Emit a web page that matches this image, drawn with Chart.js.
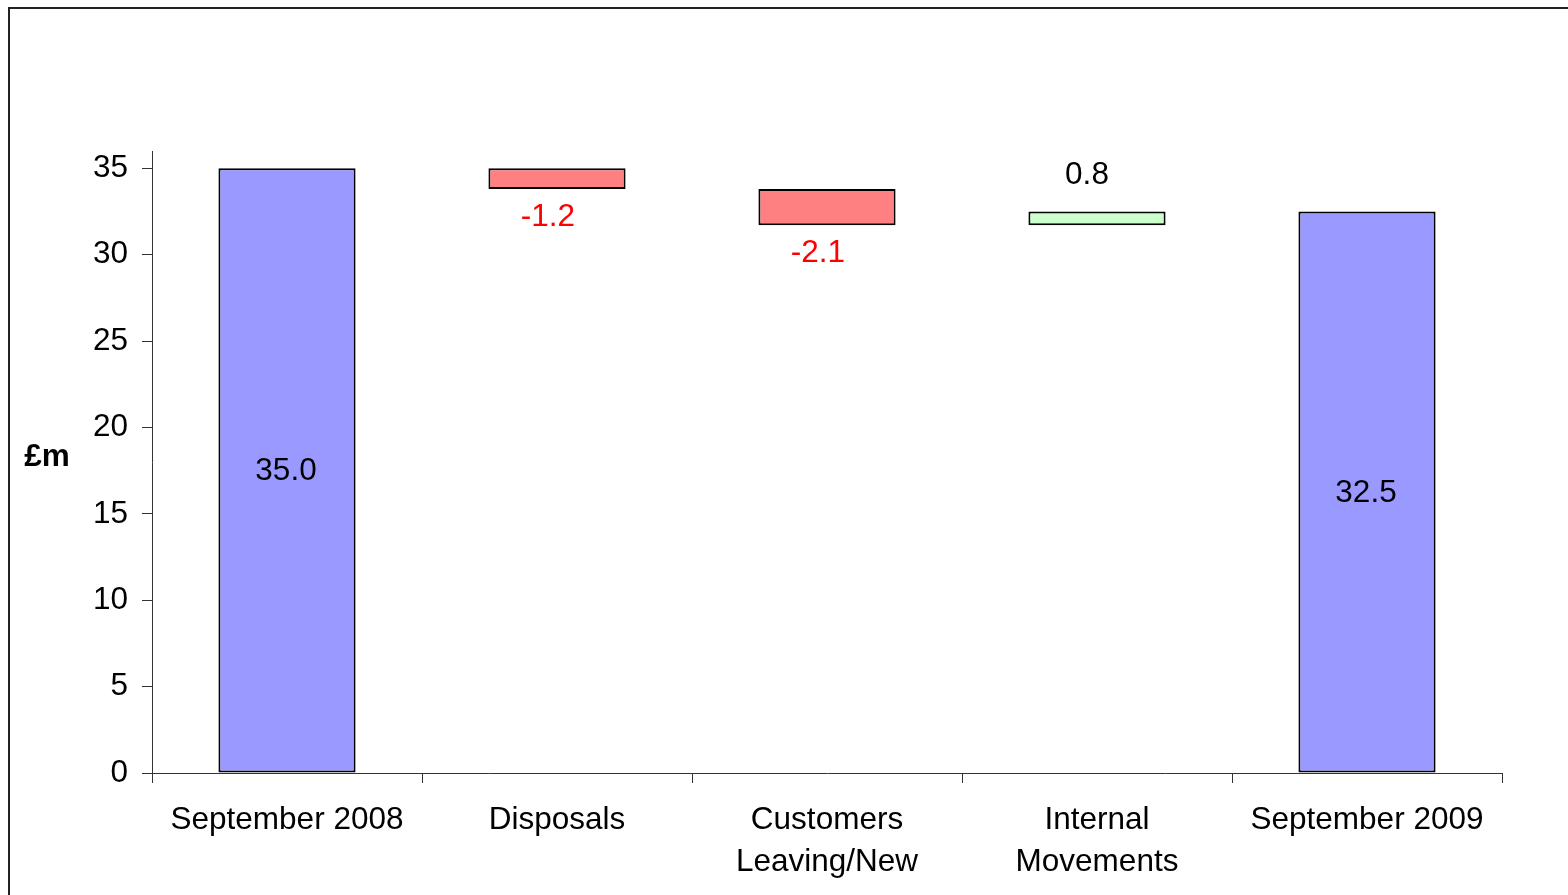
<!DOCTYPE html>
<html>
<head>
<meta charset="utf-8">
<script src="https://cdn.jsdelivr.net/npm/chart.js@4/dist/chart.umd.min.js"></script>
<style>
  html, body { margin: 0; padding: 0; background: #fff; }
  #wrap { width: 1568px; height: 895px; position: relative; }
</style>
</head>
<body>
<div id="wrap"><canvas id="chart" width="1568" height="895"></canvas></div>
<script>
// Revenue bridge, £m
const categories = ['September 2008', 'Disposals', ['Customers', 'Leaving/New'], ['Internal', 'Movements'], 'September 2009'];
const changes = [35.0, -1.2, -2.1, 0.8, 32.5];
const isTotal = [true, false, false, false, true];
const yTicks = [0, 5, 10, 15, 20, 25, 30, 35];

const FONT = "'Liberation Sans', Arial, sans-serif";
const FONT_SIZE = 31.5;
const TOTAL_COLOR = '#9999FF';
const DOWN_COLOR = '#FF8080';
const UP_COLOR = '#CCFFCC';

// Floating [start, end] ranges for the waterfall
const ranges = [];
let running = 0;
changes.forEach((v, i) => {
  if (isTotal[i]) {
    ranges.push([0, v]);
    running = v;
  } else {
    const next = Math.round((running + v) * 10) / 10;
    ranges.push([running, next]);
    running = next;
  }
});
const colors = changes.map((v, i) => isTotal[i] ? TOTAL_COLOR : (v < 0 ? DOWN_COLOR : UP_COLOR));

const framePlugin = {
  id: 'frame',
  beforeDraw(chart) {
    const ctx = chart.ctx;
    ctx.save();
    ctx.strokeStyle = '#222';
    ctx.lineWidth = 2;
    ctx.strokeRect(9, 8, 3000, 3000);
    ctx.fillStyle = '#000';
    ctx.font = 'bold ' + FONT_SIZE + 'px ' + FONT;
    ctx.textAlign = 'center';
    ctx.textBaseline = 'middle';
    ctx.fillText('£m', 47, 457);
    ctx.restore();
  }
};

const valueLabels = {
  id: 'valueLabels',
  afterDatasetsDraw(chart) {
    const ctx = chart.ctx;
    const meta = chart.getDatasetMeta(0);
    ctx.save();
    ctx.font = FONT_SIZE + 'px ' + FONT;
    ctx.textAlign = 'center';
    ctx.textBaseline = 'middle';
    meta.data.forEach((bar, i) => {
      const v = changes[i];
      const top = Math.min(bar.y, bar.base);
      const bottom = Math.max(bar.y, bar.base);
      const text = v.toFixed(1);
      if (isTotal[i]) {
        ctx.fillStyle = '#000';
        ctx.fillText(text, bar.x - 1, (top + bottom) / 2 + 1);
      } else if (v < 0) {
        ctx.fillStyle = '#FF0000';
        ctx.fillText(text, bar.x - 9, bottom + 28);
      } else {
        ctx.fillStyle = '#000';
        ctx.fillText(text, bar.x - 10, top - 36);
      }
    });
    ctx.restore();
  }
};

new Chart(document.getElementById('chart'), {
  type: 'bar',
  data: {
    labels: categories,
    datasets: [{
      data: ranges,
      backgroundColor: colors,
      borderColor: '#000',
      borderWidth: 2,
      borderSkipped: false,
      categoryPercentage: 1.0,
      barPercentage: 0.508
    }]
  },
  options: {
    responsive: false,
    animation: false,
    layout: { padding: { left: 0, top: 151, right: 66, bottom: 0 } },
    plugins: {
      legend: { display: false },
      tooltip: { enabled: false }
    },
    scales: {
      x: {
        offset: true,
        grid: {
          offset: true,
          drawOnChartArea: false,
          drawTicks: true,
          tickLength: 10,
          color: '#333'
        },
        border: { color: '#333', width: 1 },
        ticks: {
          color: '#000',
          font: { family: FONT, size: FONT_SIZE, lineHeight: 1.34 },
          padding: 16,
          maxRotation: 0,
          autoSkip: false
        },
        afterFit(scale) { scale.height = 122; }
      },
      y: {
        min: 0,
        max: 36,
        grid: {
          drawOnChartArea: false,
          drawTicks: true,
          tickLength: 10,
          color: '#333'
        },
        border: { color: '#333', width: 1 },
        ticks: {
          stepSize: 5,
          color: '#000',
          font: { family: FONT, size: FONT_SIZE },
          padding: 14
        },
        afterBuildTicks(scale) {
          scale.ticks = yTicks.map(v => ({ value: v }));
        },
        afterFit(scale) { scale.width = 152; }
      }
    }
  },
  plugins: [framePlugin, valueLabels]
});
</script>
</body>
</html>
